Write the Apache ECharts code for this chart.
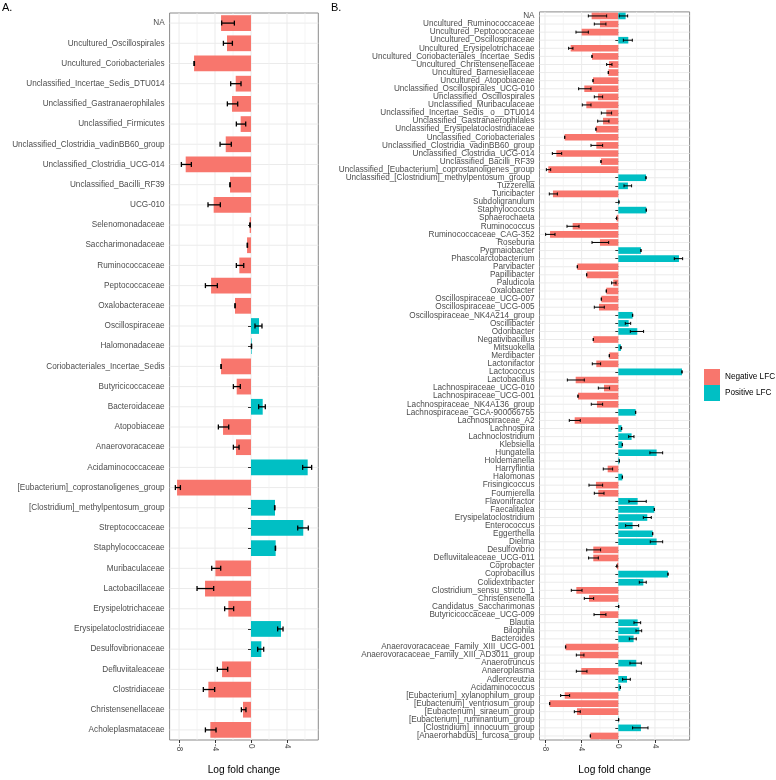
<!DOCTYPE html>
<html>
<head>
<meta charset="utf-8">
<script src="https://cdn.jsdelivr.net/npm/echarts@6/dist/echarts.min.js"></script>
<style>
html, body { margin: 0; padding: 0; background: #fff; }
#main { width: 776px; height: 780px; }
</style>
</head>
<body>
<div id="main"></div>
<script>
// panel A: families
const catsA = ['NA', 'Uncultured_Oscillospirales', 'Uncultured_Coriobacteriales', 'Unclassified_Incertae_Sedis_DTU014',
  'Unclassified_Gastranaerophilales', 'Unclassified_Firmicutes', 'Unclassified_Clostridia_vadinBB60_group',
  'Unclassified_Clostridia_UCG-014', 'Unclassified_Bacilli_RF39', 'UCG-010', 'Selenomonadaceae', 'Saccharimonadaceae',
  'Ruminococcaceae', 'Peptococcaceae', 'Oxalobacteraceae', 'Oscillospiraceae', 'Halomonadaceae',
  'Coriobacteriales_Incertae_Sedis', 'Butyricicoccaceae', 'Bacteroidaceae', 'Atopobiaceae', 'Anaerovoracaceae',
  'Acidaminococcaceae', '[Eubacterium]_coprostanoligenes_group', '[Clostridium]_methylpentosum_group',
  'Streptococcaceae', 'Staphylococcaceae', 'Muribaculaceae', 'Lactobacillaceae', 'Erysipelotrichaceae',
  'Erysipelatoclostridiaceae', 'Desulfovibrionaceae', 'Defluviitaleaceae', 'Clostridiaceae',
  'Christensenellaceae', 'Acholeplasmataceae'];
const lfcA = [-3.33, -2.67, -6.33, -1.70, -2.11, -1.15, -2.81, -7.26, -2.33, -4.15, -0.15, -0.44, -1.30, -4.44,
  -1.78, 0.89, 0.07, -3.33, -1.59, 1.30, -3.11, -1.67, 6.30, -8.22, 2.67, 5.81, 2.74, -3.96, -5.11, -2.52, 3.33,
  1.15, -3.22, -4.74, -0.89, -4.52];
const errLoA = [-3.26, -3.07, -6.34, -2.26, -2.63, -1.63, -3.44, -7.74, -2.35, -4.78, -0.13, -0.42, -1.63, -5.07,
  -1.79, 0.44, 0.04, -3.34, -1.96, 0.85, -3.63, -1.96, 5.74, -8.41, 2.62, 5.19, 2.70, -4.37, -6.00, -2.93, 2.96,
  0.74, -3.74, -5.30, -1.07, -5.07];
const errHiA = [-1.85, -2.07, -6.29, -1.11, -1.48, -0.59, -2.19, -6.63, -2.31, -3.41, -0.09, -0.39, -0.81, -3.74,
  -1.76, 1.22, 0.07, -3.31, -1.19, 1.59, -2.48, -1.33, 6.74, -7.85, 2.65, 6.37, 2.73, -3.37, -4.15, -1.93, 3.56,
  1.41, -2.59, -4.04, -0.56, -3.89];

// panel B: genera
const catsB = ['NA', 'Uncultured_Ruminococcaceae', 'Uncultured_Peptococcaceae', 'Uncultured_Oscillospiraceae',
  'Uncultured_Erysipelotrichaceae', 'Uncultured_Coriobacteriales_Incertae_Sedis', 'Uncultured_Christensenellaceae',
  'Uncultured_Barnesiellaceae', 'Uncultured_Atopobiaceae', 'Unclassified_Oscillospirales_UCG-010',
  'Unclassified_Oscillospirales', 'Unclassified_Muribaculaceae', 'Unclassified_Incertae_Sedis_ o__DTU014',
  'Unclassified_Gastranaerophilales', 'Unclassified_Erysipelatoclostridiaceae', 'Unclassified_Coriobacteriales',
  'Unclassified_Clostridia_vadinBB60_group', 'Unclassified_Clostridia_UCG-014', 'Unclassified_Bacilli_RF39',
  'Unclassified_[Eubacterium]_coprostanoligenes_group', 'Unclassified_[Clostridium]_methylpentosum_group_',
  'Tuzzerella', 'Turicibacter', 'Subdoligranulum', 'Staphylococcus', 'Sphaerochaeta', 'Ruminococcus',
  'Ruminococcaceae_CAG-352', 'Roseburia', 'Pygmaiobacter', 'Phascolarctobacterium', 'Parvibacter', 'Papillibacter',
  'Paludicola', 'Oxalobacter', 'Oscillospiraceae_UCG-007', 'Oscillospiraceae_UCG-005',
  'Oscillospiraceae_NK4A214_group', 'Oscillibacter', 'Odoribacter', 'Negativibacillus', 'Mitsuokella',
  'Merdibacter', 'Lactonifactor', 'Lactococcus', 'Lactobacillus', 'Lachnospiraceae_UCG-010',
  'Lachnospiraceae_UCG-001', 'Lachnospiraceae_NK4A136_group', 'Lachnospiraceae_GCA-900066755',
  'Lachnospiraceae_A2', 'Lachnospira', 'Lachnoclostridium', 'Klebsiella', 'Hungatella', 'Holdemanella',
  'Harryflintia', 'Halomonas', 'Frisingicoccus', 'Fournierella', 'Flavonifractor', 'Faecalitalea',
  'Erysipelatoclostridium', 'Enterococcus', 'Eggerthella', 'Dielma', 'Desulfovibrio', 'Defluviitaleaceae_UCG-011',
  'Coprobacter', 'Coprobacillus', 'Colidextribacter', 'Clostridium_sensu_stricto_1', 'Christensenella',
  'Candidatus_Saccharimonas', 'Butyricicoccaceae_UCG-009', 'Blautia', 'Bilophila', 'Bacteroides',
  'Anaerovoracaceae_Family_XIII_UCG-001', 'Anaerovoracaceae_Family_XIII_AD3011_group', 'Anaerotruncus',
  'Anaeroplasma', 'Adlercreutzia', 'Acidaminococcus', '[Eubacterium]_xylanophilum_group',
  '[Eubacterium]_ventriosum_group', '[Eubacterium]_siraeum_group', '[Eubacterium]_ruminantium_group',
  '[Clostridium]_innocuum_group', '[Anaerorhabdus]_furcosa_group'];
const lfcB = [-2.91, -2.00, -4.00, 1.09, -5.20, -2.87, -1.02, -1.09, -2.76, -3.71,
  -2.22, -3.49, -1.31, -1.67, -2.44, -5.85, -2.40, -6.76, -1.89, -7.64,
  3.02, 1.05, -7.13, 0.07, 3.05, -0.18, -4.98, -7.45, -2.00, 2.47,
  6.62, -4.47, -3.45, -0.55, -1.31, -1.85, -2.11, 1.56, 1.13, 2.07,
  -2.73, 0.29, -0.98, -2.40, 6.95, -4.65, -1.56, -4.40, -2.33, 1.89,
  -4.76, 0.36, 1.45, 0.44, 4.18, 0.11, -1.16, 0.44, -2.44, -2.18,
  2.11, 3.93, 3.16, 1.56, 3.75, 4.18, -2.73, -2.73, -0.15, 5.42,
  2.73, -4.58, -3.20, 0.04, -2.00, 2.11, 2.29, 1.67, -5.75, -4.18,
  1.96, -4.04, 0.95, 0.22, -5.85, -7.49, -4.51, 0.04, 2.47, -3.05];
const errLoB = [-3.27, -2.62, -4.62, 0.55, -5.42, -2.89, -1.27, -1.11, -2.78, -4.33,
  -2.62, -3.93, -1.85, -2.25, -2.46, -5.87, -2.98, -7.20, -1.91, -7.85,
  3.00, 0.62, -7.53, 0.05, 3.03, -0.20, -5.60, -7.93, -2.87, 2.45,
  6.11, -4.49, -3.47, -0.73, -1.33, -1.87, -2.62, 1.54, 0.76, 1.31,
  -2.75, 0.27, -1.00, -2.84, 6.93, -5.56, -2.18, -4.42, -2.95, 1.87,
  -5.35, 0.34, 1.13, 0.42, 3.45, 0.09, -1.64, 0.42, -3.20, -2.62,
  1.16, 3.91, 2.73, 0.80, 3.73, 3.49, -3.45, -3.24, -0.17, 5.40,
  2.29, -5.13, -3.71, 0.02, -2.65, 1.71, 1.93, 1.20, -5.77, -4.58,
  1.27, -4.58, 0.47, 0.20, -6.29, -7.51, -4.80, 0.02, 1.56, -3.07];
const errHiB = [-1.27, -1.35, -3.27, 1.53, -4.95, -2.85, -0.69, -1.07, -2.74, -2.98,
  -1.71, -2.98, -0.73, -1.02, -2.42, -5.83, -1.71, -6.18, -1.87, -7.38,
  3.04, 1.45, -6.65, 0.09, 3.07, -0.16, -4.29, -6.91, -1.05, 2.49,
  7.02, -4.45, -3.43, -0.25, -1.29, -1.83, -1.53, 1.58, 1.35, 2.76,
  -2.71, 0.31, -0.96, -1.93, 6.97, -3.71, -0.95, -4.38, -1.71, 1.91,
  -4.15, 0.38, 1.71, 0.46, 4.84, 0.13, -0.62, 0.46, -1.71, -1.56,
  3.05, 3.95, 3.60, 2.22, 3.77, 4.84, -1.93, -2.18, -0.13, 5.44,
  3.05, -3.96, -2.69, 0.06, -1.35, 2.44, 2.55, 1.96, -5.73, -3.75,
  2.51, -3.42, 1.31, 0.24, -5.31, -7.47, -4.15, 0.06, 3.24, -3.03];
// the NA genus row also carries a positive bar
const naPosB = 0.80;
const naPosErrB = [0.11, 1.02];

const NEG = '#F8766D', POS = '#00BFC4';
const FONT = '"Liberation Sans", Arial, sans-serif';
const xTicks = [-8, -4, 0, 4];
const xMinor = [-6, -2, 2, 6];

function gridLines(cats) {
  return function (params, api) {
    const cs = params.coordSys;
    const kids = [];
    cats.forEach(function (c, i) {
      const y = api.coord([0, i])[1];
      kids.push({ type: 'line', shape: { x1: cs.x, y1: y, x2: cs.x + cs.width, y2: y },
        style: { stroke: '#ebebeb', lineWidth: 1 } });
    });
    xMinor.forEach(function (v) {
      const x = api.coord([v, 0])[0];
      kids.push({ type: 'line', shape: { x1: x, y1: cs.y, x2: x, y2: cs.y + cs.height },
        style: { stroke: '#f0f0f0', lineWidth: 0.7 } });
    });
    xTicks.forEach(function (v) {
      const x = api.coord([v, 0])[0];
      kids.push({ type: 'line', shape: { x1: x, y1: cs.y, x2: x, y2: cs.y + cs.height },
        style: { stroke: '#ebebeb', lineWidth: 1 } });
    });
    return { type: 'group', children: kids };
  };
}

function errRender(cap, lw) {
  return function (params, api) {
    const a = api.coord([api.value(0), api.value(2)]);
    const b = api.coord([api.value(1), api.value(2)]);
    const st = { stroke: '#000', lineWidth: lw };
    return { type: 'group', children: [
      { type: 'line', shape: { x1: a[0], y1: a[1], x2: b[0], y2: b[1] }, style: st },
      { type: 'line', shape: { x1: a[0], y1: a[1] - cap, x2: a[0], y2: a[1] + cap }, style: st },
      { type: 'line', shape: { x1: b[0], y1: b[1] - cap, x2: b[0], y2: b[1] + cap }, style: st }
    ] };
  };
}

const errA = catsA.map((c, i) => [errLoA[i], errHiA[i], i]);
const errB = catsB.map((c, i) => [errLoB[i], errHiB[i], i]);
errB.push([naPosErrB[0], naPosErrB[1], 0]);

const negB = lfcB.map(v => v < 0 ? v : '-');
const posB = lfcB.map(v => v > 0 ? v : '-');
posB[0] = naPosB;

function xAxisOpt(idx, min, max) {
  return {
    type: 'value', gridIndex: idx, min: min, max: max,
    axisLine: { show: false },
    axisTick: { show: true, customValues: xTicks, length: 3, lineStyle: { color: '#333' } },
    axisLabel: { customValues: xTicks, rotate: -90, fontSize: 8.2, color: '#4d4d4d', margin: 4, fontFamily: FONT },
    splitLine: { show: false },
    name: 'Log fold change', nameLocation: 'middle', nameGap: 25,
    nameTextStyle: { fontSize: 10.2, color: '#000', fontFamily: FONT }
  };
}
function yAxisOpt(idx, cats) {
  return {
    type: 'category', gridIndex: idx, data: cats, inverse: true,
    axisLine: { show: false },
    axisTick: { show: true, alignWithLabel: true, length: 3, lineStyle: { color: '#333' } },
    axisLabel: { interval: 0, fontSize: 8.2, color: '#4d4d4d', margin: 5, fontFamily: FONT },
    splitLine: { show: false }
  };
}

const chart = echarts.init(document.getElementById('main'), null, { renderer: 'canvas' });
chart.setOption({
  animation: false,
  textStyle: { fontFamily: FONT },
  grid: [
    { left: 169.6, top: 13, width: 148.7, height: 740.3, show: true, borderColor: '#8a8a8a', borderWidth: 1, containLabel: false },
    { left: 539.5, top: 11.9, width: 150.1, height: 742.2, show: true, borderColor: '#8a8a8a', borderWidth: 1, containLabel: false }
  ],
  xAxis: [xAxisOpt(0, -9.05, 7.48), xAxisOpt(1, -8.6, 7.78)],
  yAxis: [yAxisOpt(0, catsA), yAxisOpt(1, catsB)],
  legend: {
    orient: 'vertical', left: 704, top: 369, padding: 0, itemWidth: 16, itemHeight: 16, itemGap: 0,
    icon: 'rect', selectedMode: false,
    data: ['Negative LFC', 'Positive LFC'],
    textStyle: { fontSize: 8.2, color: '#000', fontFamily: FONT }
  },
  graphic: [
    { type: 'text', left: 2, top: 2, style: { text: 'A.', fontSize: 11, fill: '#000', fontFamily: FONT } },
    { type: 'text', left: 331, top: 2, style: { text: 'B.', fontSize: 11, fill: '#000', fontFamily: FONT } }
  ],
  series: [
    { type: 'custom', xAxisIndex: 0, yAxisIndex: 0, data: [[0, 0]], renderItem: gridLines(catsA), z: 0, silent: true },
    { type: 'custom', xAxisIndex: 1, yAxisIndex: 1, data: [[0, 0]], renderItem: gridLines(catsB), z: 0, silent: true },
    { name: 'Negative LFC', type: 'bar', xAxisIndex: 0, yAxisIndex: 0, barWidth: '78%', barGap: '-100%',
      itemStyle: { color: NEG }, data: lfcA.map(v => v < 0 ? v : '-'), z: 2 },
    { name: 'Positive LFC', type: 'bar', xAxisIndex: 0, yAxisIndex: 0, barWidth: '78%', barGap: '-100%',
      itemStyle: { color: POS }, data: lfcA.map(v => v > 0 ? v : '-'), z: 2 },
    { name: 'Negative LFC', type: 'bar', xAxisIndex: 1, yAxisIndex: 1, barWidth: '82%', barGap: '-100%',
      itemStyle: { color: NEG }, data: negB, z: 2 },
    { name: 'Positive LFC', type: 'bar', xAxisIndex: 1, yAxisIndex: 1, barWidth: '82%', barGap: '-100%',
      itemStyle: { color: POS }, data: posB, z: 2 },
    { type: 'custom', xAxisIndex: 0, yAxisIndex: 0, data: errA, encode: { x: [0, 1], y: 2 },
      renderItem: errRender(2.5, 1.3), z: 3, silent: true },
    { type: 'custom', xAxisIndex: 1, yAxisIndex: 1, data: errB, encode: { x: [0, 1], y: 2 },
      renderItem: errRender(1.5, 1), z: 3, silent: true }
  ]
});
</script>
</body>
</html>
